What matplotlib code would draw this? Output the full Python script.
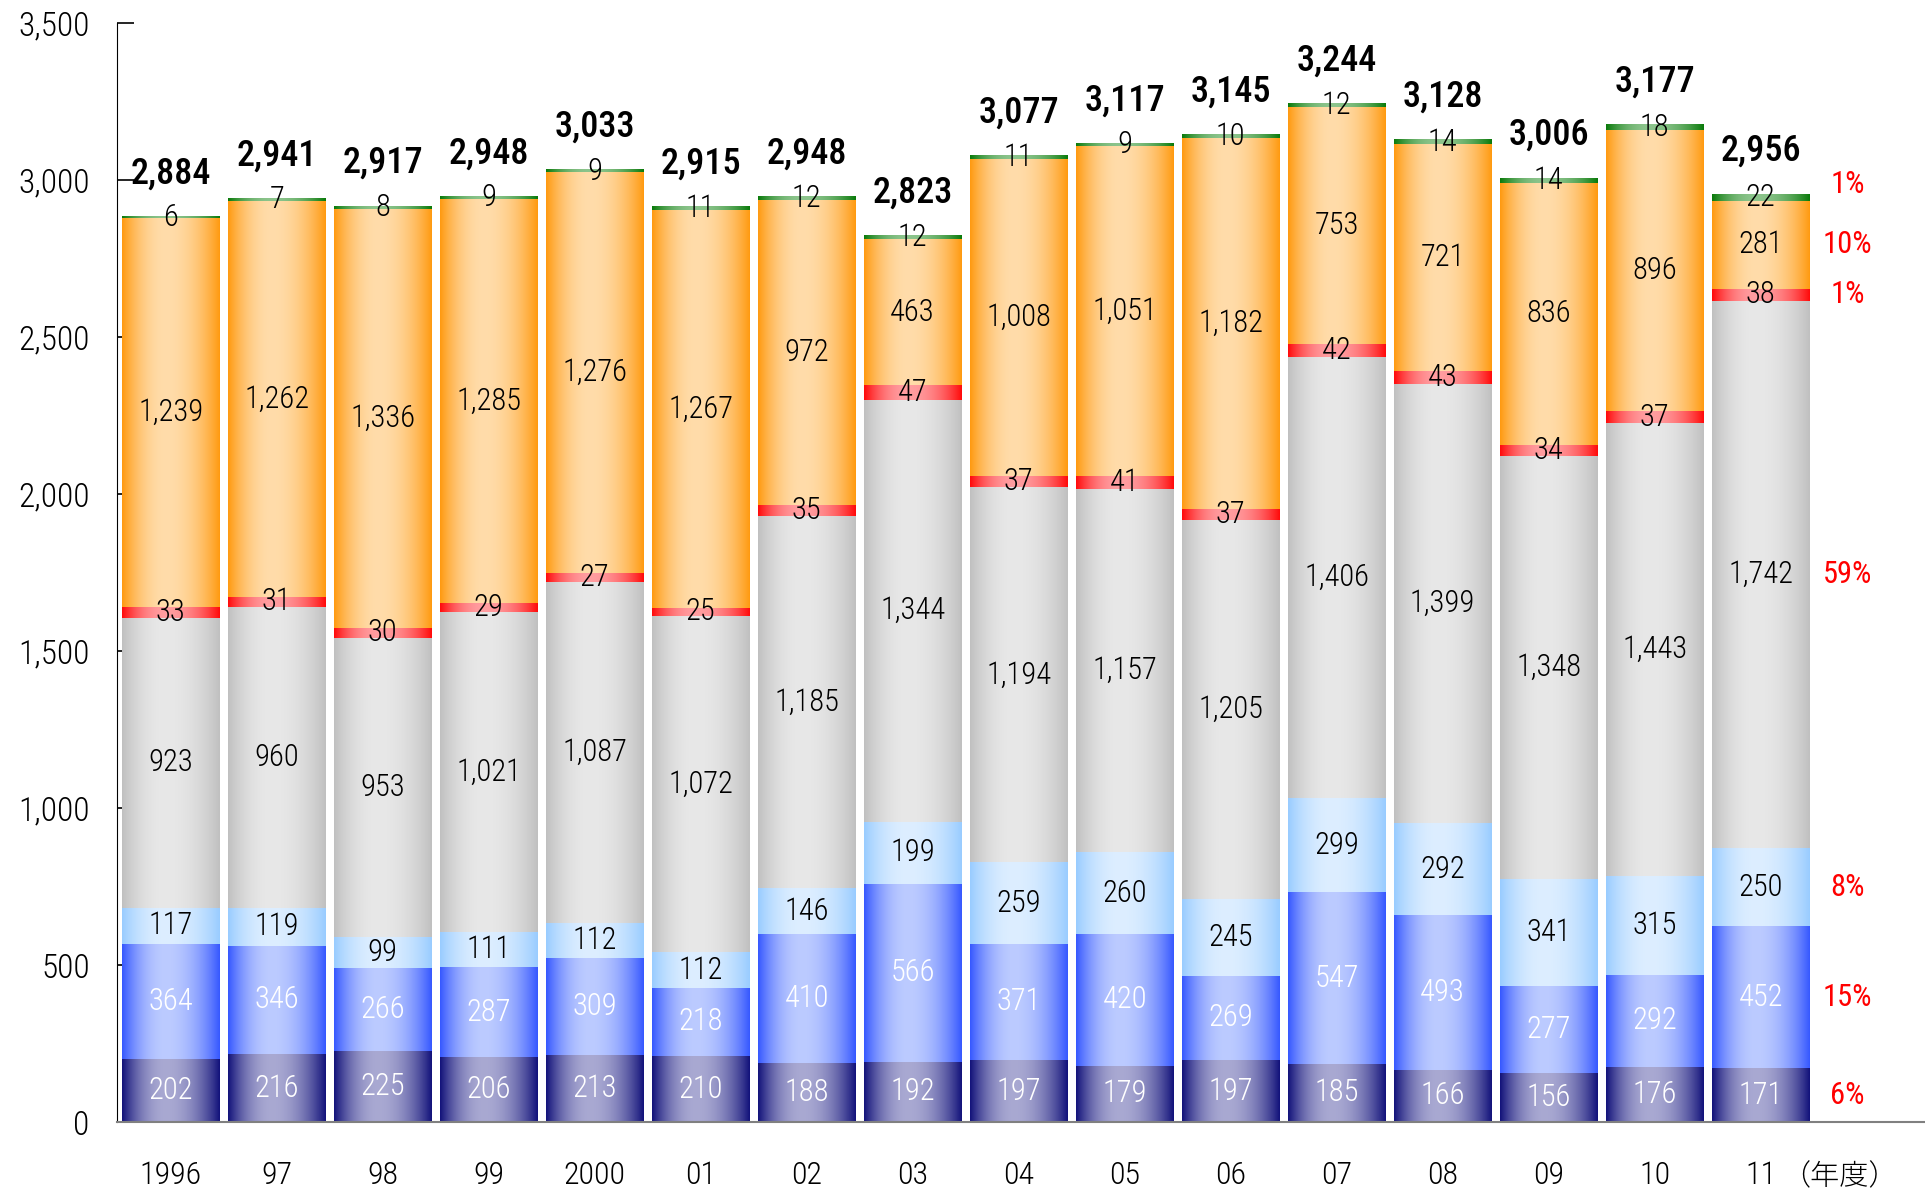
import numpy as np
import matplotlib
matplotlib.use('Agg')
import matplotlib.pyplot as plt
from matplotlib import font_manager
from matplotlib.colors import to_rgb
from matplotlib.ticker import FuncFormatter
from matplotlib.transforms import blended_transform_factory

# 字体：用窄体（与原图的细长数字接近）
names = {f.name for f in font_manager.fontManager.ttflist}
base = 'Roboto Condensed' if 'Roboto Condensed' in names else 'DejaVu Sans'
plt.rcParams['font.family'] = [base, 'Noto Sans CJK JP', 'DejaVu Sans']
plt.rcParams['font.stretch'] = 'condensed'
plt.rcParams['font.weight'] = 'light'

years = ['1996', '97', '98', '99', '2000', '01', '02', '03', '04', '05', '06', '07', '08', '09', '10', '11']
navy = [202, 216, 225, 206, 213, 210, 188, 192, 197, 179, 197, 185, 166, 156, 176, 171]
blue = [364, 346, 266, 287, 309, 218, 410, 566, 371, 420, 269, 547, 493, 277, 292, 452]
lightblue = [117, 119, 99, 111, 112, 112, 146, 199, 259, 260, 245, 299, 292, 341, 315, 250]
gray = [923, 960, 953, 1021, 1087, 1072, 1185, 1344, 1194, 1157, 1205, 1406, 1399, 1348, 1443, 1742]
red = [33, 31, 30, 29, 27, 25, 35, 47, 37, 41, 37, 42, 43, 34, 37, 38]
orange = [1239, 1262, 1336, 1285, 1276, 1267, 972, 463, 1008, 1051, 1182, 753, 721, 836, 896, 281]
green = [6, 7, 8, 9, 9, 11, 12, 12, 11, 9, 10, 12, 14, 14, 18, 22]
totals = [2884, 2941, 2917, 2948, 3033, 2915, 2948, 2823, 3077, 3117, 3145, 3244, 3128, 3006, 3177, 2956]
shares = ['6%', '15%', '8%', '59%', '1%', '10%', '1%']

# 每层：数据、边缘色、中间色、文字颜色
layers = [
    (navy, '#12127a', '#a9a9d2', 'white'),
    (blue, '#3658ff', '#bccbff', 'white'),
    (lightblue, '#99ccff', '#ddeeff', 'black'),
    (gray, '#c0c0c0', '#e8e8e8', 'black'),
    (red, '#ff0a0a', '#ff9da0', 'black'),
    (orange, '#ff9a10', '#ffdcaa', 'black'),
    (green, '#0a7a0a', '#8cc48c', 'black'),
]


def gradient(edge, mid, n=200):
    t = np.linspace(0, 1, n)
    d = np.where(t < 0.45, (0.45 - t) / 0.45, (t - 0.45) / 0.55)
    f = 1 - d ** 2
    e = np.array(to_rgb(edge))
    m = np.array(to_rgb(mid))
    return (e[None, :] * (1 - f[:, None]) + m[None, :] * f[:, None])[None, :, :]


fig = plt.figure(figsize=(19.25, 11.93), dpi=100)
ax = fig.add_axes([0.061, 0.0595, 0.939, 0.9212])

x = np.arange(len(years))
width = 0.92
bottom = np.zeros(len(years))
for vals, edge, mid, tc in layers:
    vals = np.array(vals)
    bars = ax.bar(x, vals, width, bottom=bottom, color='none', linewidth=0)
    img = gradient(edge, mid)
    for b, v, y0 in zip(bars, vals, bottom):
        x0 = b.get_x()
        ax.imshow(img, extent=[x0, x0 + b.get_width(), y0, y0 + v], aspect='auto',
                  interpolation='bilinear', zorder=2)
        ax.text(x0 + b.get_width() / 2, y0 + v / 2, f'{v:,}', ha='center', va='center',
                color=tc, fontsize=22, zorder=4)
    bottom = bottom + vals

for xi, t in zip(x, totals):
    ax.annotate(f'{t:,}', (xi, t), xytext=(0, 31), textcoords='offset points',
                ha='center', va='center', fontsize=26, fontweight='medium')

# 最后一年的构成比
last = len(years) - 1
cum = 0
for (vals, _, _, _), s in zip(layers, shares):
    v = vals[last]
    yc = cum + v / 2
    if vals is green:
        yc += 40
    ax.text(last + 0.82, yc, s, ha='center', va='center', color='red', fontsize=22,
            fontweight='normal')
    cum += v

ax.set_xlim(-0.502, 16.55)
ax.set_ylim(0, 3500)
ax.set_yticks(np.arange(0, 3501, 500))
ax.yaxis.set_major_formatter(FuncFormatter(lambda v, p: f'{int(v):,}'))
ax.set_xticks(x)
ax.set_xticklabels(years)
ax.tick_params(axis='y', direction='in', length=12, width=1.2, pad=20, labelsize=24)
ax.tick_params(axis='x', length=0, pad=28, labelsize=23)
for s in ['top', 'right']:
    ax.spines[s].set_visible(False)
ax.spines['left'].set_color('black')
ax.spines['bottom'].set_color('#808080')
ax.spines['bottom'].set_linewidth(1.5)

tr = blended_transform_factory(ax.transData, ax.transAxes)
ax.text(15.19, -0.05, '（年度）', transform=tr, ha='left', va='center', fontsize=21,
        family=['Noto Sans CJK JP', 'DejaVu Sans'])

fig.savefig('out.png', dpi=100)
